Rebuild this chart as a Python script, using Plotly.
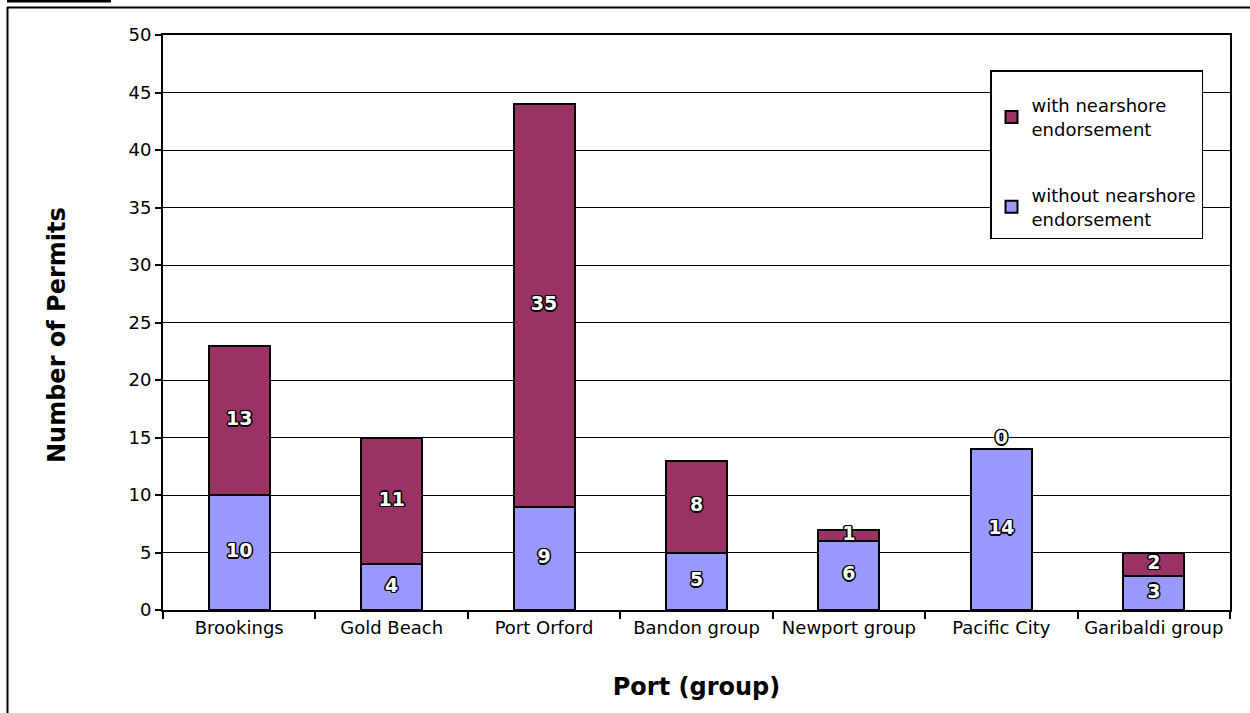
import plotly.graph_objects as go

# Permit counts by port group
ports = ["Brookings", "Gold Beach", "Port Orford", "Bandon group",
         "Newport group", "Pacific City", "Garibaldi group"]
without_nearshore = [10, 4, 9, 5, 6, 14, 3]
with_nearshore = [13, 11, 35, 8, 1, 0, 2]

y_ticks = list(range(0, 51, 5))

FONT = "DejaVu Sans"
COLOR_WITH = "#993366"
COLOR_WITHOUT = "#9999FF"

# plot-area geometry in pixels, used to place frame pieces outside it
L, R, T, B = 163, 20, 35, 103
W, H = 1250, 713
PW, PH = W - L - R, H - T - B


def px_x(px):
    return (px - L) / PW


def px_y(py):
    return 1 - (py - T) / PH


fig = go.Figure()

fig.add_trace(go.Bar(
    x=ports, y=without_nearshore,
    name="without nearshore<br>endorsement",
    legendgroup="without", legendrank=2,
    marker=dict(color=COLOR_WITHOUT, line=dict(color="black", width=2)),
    width=0.4,
    hoverinfo="skip",
))
fig.add_trace(go.Bar(
    x=ports, y=with_nearshore,
    name="with nearshore<br>endorsement",
    legendgroup="with", legendrank=1,
    marker=dict(color=COLOR_WITH, line=dict(color="black", width=2)),
    width=0.4,
    hoverinfo="skip",
))

# Value labels centred on each stacked segment (empty segments sit on top)
label_x, label_y, label_text, label_pos = [], [], [], []
for p, lo, hi in zip(ports, without_nearshore, with_nearshore):
    label_x.append(p)
    label_y.append(lo / 2)
    label_text.append(str(lo))
    label_pos.append("middle center")
    label_x.append(p)
    if hi == 0:
        label_y.append(lo)
        label_pos.append("top center")
    else:
        label_y.append(lo + hi / 2)
        label_pos.append("middle center")
    label_text.append(str(hi))

outline = ("-1px -1px 0 #000, 1px -1px 0 #000, -1px 1px 0 #000, 1px 1px 0 #000,"
           " 0 1.5px 0 #000, 0 -1.5px 0 #000, 1.5px 0 0 #000, -1.5px 0 0 #000")
fig.add_trace(go.Scatter(
    x=label_x, y=label_y, text=label_text, mode="text",
    textposition=label_pos,
    textfont=dict(family=FONT, size=19, color="white", weight="bold",
                  shadow=outline),
    showlegend=False, hoverinfo="skip", cliponaxis=False,
))

fig.update_layout(
    width=W, height=H,
    barmode="stack",
    paper_bgcolor="white", plot_bgcolor="white",
    font=dict(family=FONT, size=18, color="black"),
    margin=dict(l=L, r=R, t=T, b=B, autoexpand=False),
    showlegend=True,
    legend=dict(
        x=px_x(990), y=px_y(70), xanchor="left", yanchor="top",
        traceorder="grouped", tracegroupgap=40,
        bordercolor="black", borderwidth=1.5, bgcolor="white",
        font=dict(family=FONT, size=18),
        title=dict(text=" ", font=dict(size=12)),
        itemwidth=30,
    ),
    xaxis=dict(
        type="category",
        showline=True, linecolor="black", linewidth=2, mirror=True,
        ticks="outside", tickson="boundaries", ticklen=7, tickwidth=1.5,
        tickcolor="black",
        title=dict(text="<b>Port (group)</b>", font=dict(size=24), standoff=42),
        showgrid=False, automargin=False,
    ),
    yaxis=dict(
        range=[0, 50], tickvals=y_ticks, ticktext=[str(v) for v in y_ticks],
        showline=True, linecolor="black", linewidth=2, mirror=True,
        ticks="outside", ticklen=6, tickwidth=1.5, tickcolor="black",
        showgrid=True, gridcolor="black", gridwidth=1.2,
        zeroline=False,
        automargin=False,
    ),
    annotations=[
        dict(text="<b>Number of Permits</b>", textangle=-90,
             xref="paper", yref="paper", x=px_x(57), y=px_y(335),
             xanchor="center", yanchor="middle", showarrow=False,
             font=dict(family=FONT, size=24, color="black")),
    ],
    shapes=[
        # outer frame (top and left edges) plus the tab at the top-left corner
        dict(type="line", xref="paper", yref="paper",
             x0=px_x(7), x1=px_x(W), y0=px_y(7.5), y1=px_y(7.5),
             line=dict(color="black", width=2)),
        dict(type="line", xref="paper", yref="paper",
             x0=px_x(7.5), x1=px_x(7.5), y0=px_y(7), y1=px_y(H),
             line=dict(color="black", width=2)),
        dict(type="rect", xref="paper", yref="paper",
             x0=px_x(7), x1=px_x(111), y0=px_y(2.5), y1=px_y(0),
             line=dict(width=0), fillcolor="black"),
    ],
)

fig.write_html("out.html")
